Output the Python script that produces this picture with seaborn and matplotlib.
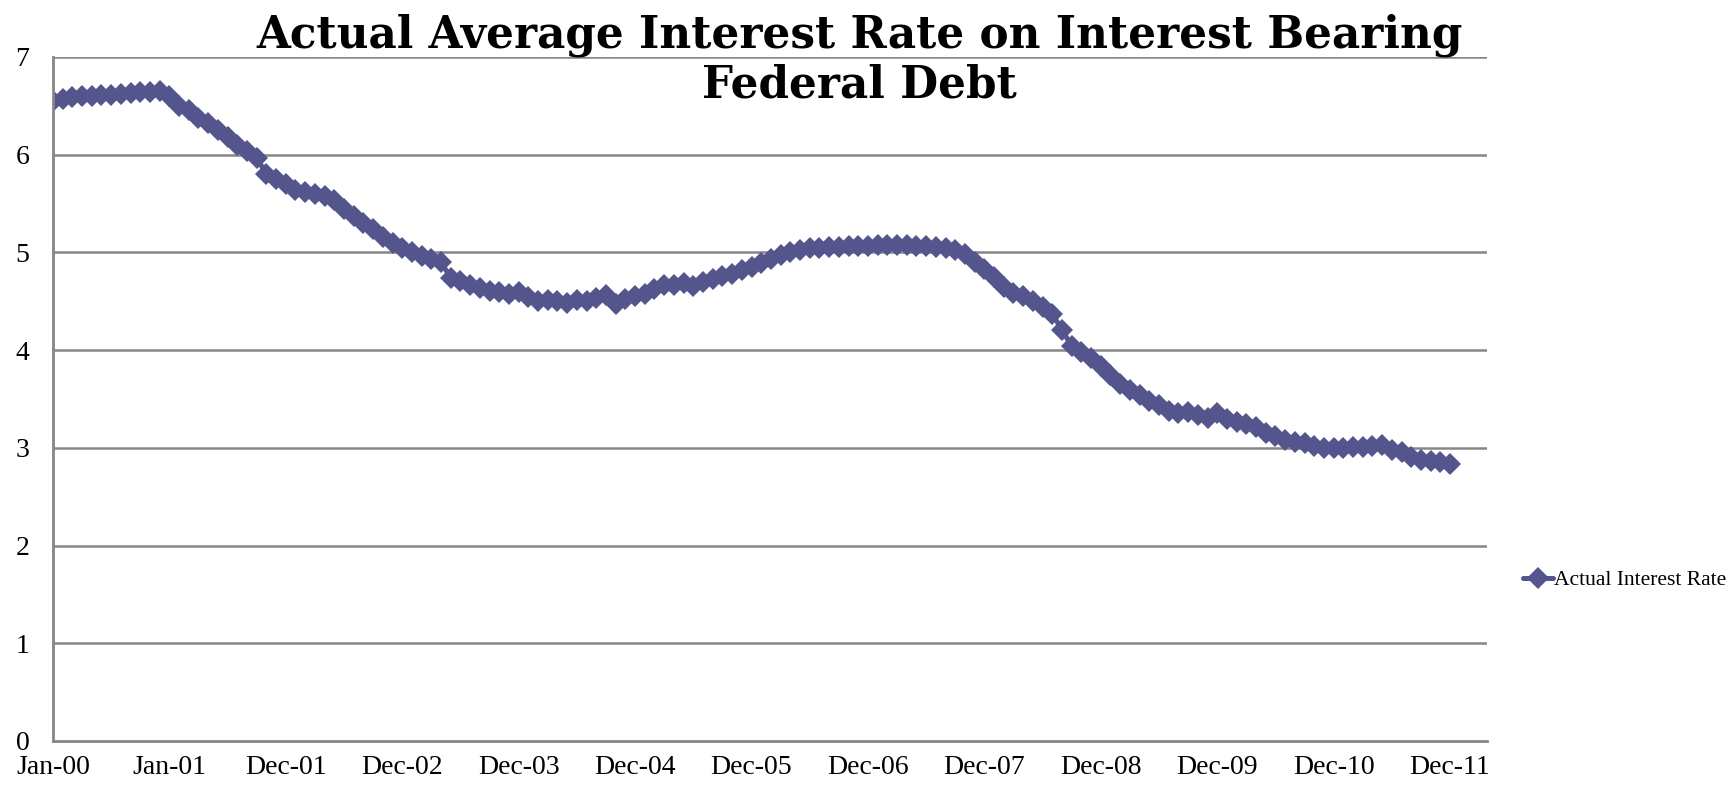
import numpy as np
import pandas as pd
import matplotlib
matplotlib.use("Agg")
import matplotlib.pyplot as plt
import seaborn as sns

# Monthly average interest rate, Jan-00 .. Dec-11
rate = [
    6.55, 6.57, 6.59, 6.60, 6.60, 6.61, 6.61, 6.62, 6.63, 6.64, 6.64, 6.65,
    6.60, 6.50, 6.46, 6.38, 6.32, 6.25, 6.18, 6.10, 6.04, 5.97, 5.80, 5.75,
    5.70, 5.64, 5.62, 5.60, 5.58, 5.54, 5.44, 5.37, 5.30, 5.24, 5.16, 5.10,
    5.05, 5.00, 4.96, 4.93, 4.90, 4.74, 4.71, 4.67, 4.64, 4.61, 4.59, 4.57,
    4.59, 4.54, 4.50, 4.51, 4.50, 4.48, 4.51, 4.50, 4.53, 4.56, 4.47, 4.52,
    4.55, 4.57, 4.63, 4.67, 4.67, 4.69, 4.66, 4.70, 4.73, 4.76, 4.78, 4.82,
    4.85, 4.89, 4.93, 4.97, 5.00, 5.02, 5.04, 5.05, 5.06, 5.06, 5.07, 5.07,
    5.07, 5.08, 5.08, 5.08, 5.08, 5.07, 5.07, 5.06, 5.05, 5.02, 4.98, 4.90,
    4.83, 4.75, 4.65, 4.58, 4.55, 4.50, 4.44, 4.37, 4.21, 4.04, 3.98, 3.92,
    3.84, 3.75, 3.65, 3.59, 3.54, 3.48, 3.44, 3.38, 3.36, 3.37, 3.34, 3.31,
    3.36, 3.30, 3.26, 3.24, 3.21, 3.15, 3.12, 3.08, 3.06, 3.05, 3.02, 3.00,
    3.00, 3.00, 3.01, 3.01, 3.02, 3.03, 2.98, 2.96, 2.91, 2.88, 2.87, 2.85,
    2.83,
]
tick_labels = ["Jan-00", "Jan-01", "Dec-01", "Dec-02", "Dec-03", "Dec-04",
               "Dec-05", "Dec-06", "Dec-07", "Dec-08", "Dec-09", "Dec-10", "Dec-11"]
y_ticks = [0, 1, 2, 3, 4, 5, 6, 7]

df = pd.DataFrame({"month": np.arange(len(rate)), "rate": rate})

sns.set_style("white")
plt.rcParams["font.family"] = ["Liberation Serif", "DejaVu Serif"]

fig = plt.figure(figsize=(17.3, 7.86), dpi=100)
ax = fig.add_axes([0.0306, 0.0573, 0.8289, 0.8702])

grid_col = "#868686"
for v in y_ticks[1:]:
    ax.axhline(v, color=grid_col, linewidth=1.8, zorder=0)

sns.lineplot(data=df, x="month", y="rate", ax=ax, color="#53558C",
             linewidth=3.6, marker="D", markersize=11, markeredgewidth=0,
             label="Actual Interest Rate")

ax.set_xlim(0, 147.8)
ax.set_ylim(0, 7)
ax.set_xticks(np.arange(0, len(rate), 12))
ax.set_xticklabels(tick_labels)
ax.set_yticks(y_ticks)
ax.set_xlabel("")
ax.set_ylabel("")
ax.tick_params(axis="both", labelsize=20, labelcolor="black", length=7,
               width=1.5, direction="out", pad=3)
ax.tick_params(axis="x", color=grid_col)
ax.tick_params(axis="y", color=grid_col, pad=10)
for side in ["top", "right"]:
    ax.spines[side].set_visible(False)
for side in ["left", "bottom"]:
    ax.spines[side].set_color(grid_col)
    ax.spines[side].set_linewidth(2)

leg = ax.legend(loc="center left", bbox_to_anchor=(1.025, 0.235), frameon=False,
                fontsize=15.5, handlelength=1.4, handletextpad=0.05,
                borderaxespad=0.0, borderpad=0.0)
for t in leg.get_texts():
    t.set_color("black")

fig.text(0.497, 0.983, "Actual Average Interest Rate on Interest Bearing\nFederal Debt",
         ha="center", va="top", fontsize=31.5, fontweight="bold", color="black",
         family=["DejaVu Serif"], linespacing=1.2)

fig.savefig("out.png", dpi=100)
